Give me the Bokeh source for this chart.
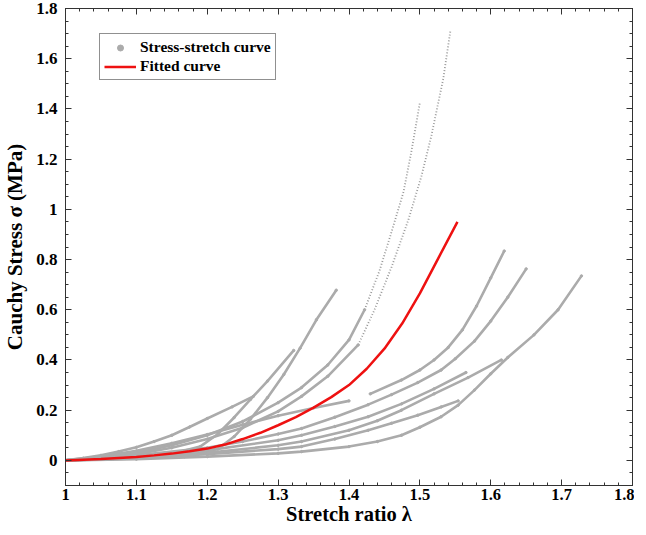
from bokeh.plotting import figure
from bokeh.models import (ColumnDataSource, LinearAxis, SingleIntervalTicker, Range1d,
                          CustomJSTickFormatter, Legend, LegendItem)
from bokeh.embed import file_html
from bokeh.resources import INLINE

# ---- data (stretch ratio, Cauchy stress MPa) ----
c1_x = [1.0, 1.025, 1.05, 1.075, 1.1, 1.125, 1.15, 1.175, 1.2, 1.235, 1.265]
c1_y = [0.0, 0.009, 0.02, 0.035, 0.052, 0.075, 0.1, 0.133, 0.167, 0.213, 0.255]

c2_x = [1.0, 1.05, 1.1, 1.145, 1.19, 1.215, 1.238, 1.261, 1.285, 1.322]
c2_y = [0.0, 0.006, 0.012, 0.022, 0.055, 0.105, 0.171, 0.243, 0.316, 0.438]

c3_x = [1.0, 1.05, 1.1, 1.168, 1.215, 1.238, 1.261, 1.285, 1.308, 1.331, 1.354, 1.382]
c3_y = [0.0, 0.004, 0.008, 0.015, 0.045, 0.095, 0.164, 0.25, 0.342, 0.447, 0.56, 0.678]

c4_x = [1.0, 1.05, 1.1, 1.15, 1.2, 1.25, 1.3, 1.333, 1.37, 1.4, 1.422, 1.443, 1.46, 1.477, 1.488, 1.5]
c4_y = [0.0, 0.01, 0.03, 0.06, 0.1, 0.155, 0.23, 0.29, 0.38, 0.48, 0.6, 0.755, 0.91, 1.07, 1.23, 1.425]

c5_x = [1.0, 1.05, 1.1, 1.15, 1.2, 1.25, 1.3, 1.333, 1.37, 1.413, 1.436, 1.46, 1.484, 1.502, 1.516, 1.533, 1.543]
c5_y = [0.0, 0.008, 0.025, 0.05, 0.085, 0.13, 0.195, 0.255, 0.335, 0.46, 0.6, 0.77, 0.96, 1.13, 1.29, 1.52, 1.71]

c6a_x = [1.0, 1.05, 1.1, 1.15, 1.2, 1.25, 1.3, 1.35, 1.4]
c6a_y = [0.0, 0.015, 0.038, 0.068, 0.103, 0.142, 0.178, 0.209, 0.237]
c6b_x = [1.43, 1.474, 1.5, 1.52, 1.54, 1.56, 1.58, 1.6, 1.619]
c6b_y = [0.265, 0.32, 0.36, 0.4, 0.45, 0.52, 0.615, 0.727, 0.834]

c7_x = [1.0, 1.1, 1.2, 1.25, 1.3, 1.333, 1.38, 1.427, 1.46, 1.497, 1.53, 1.55, 1.577, 1.6, 1.624, 1.65]
c7_y = [0.0, 0.02, 0.05, 0.075, 0.105, 0.127, 0.172, 0.222, 0.262, 0.31, 0.36, 0.405, 0.475, 0.555, 0.65, 0.763]

c8_x = [1.0, 1.1, 1.2, 1.3, 1.333, 1.4, 1.44, 1.474, 1.5, 1.53, 1.554, 1.577, 1.6, 1.624, 1.661, 1.695, 1.728]
c8_y = [0.0, 0.005, 0.015, 0.028, 0.035, 0.055, 0.075, 0.1, 0.132, 0.174, 0.22, 0.28, 0.345, 0.41, 0.5, 0.6, 0.735]

c9_x = [1.0, 1.1, 1.2, 1.3, 1.333, 1.38, 1.427, 1.474, 1.52, 1.565]
c9_y = [0.0, 0.015, 0.04, 0.08, 0.1, 0.135, 0.174, 0.225, 0.285, 0.35]

c10_x = [1.0, 1.1, 1.2, 1.3, 1.333, 1.38, 1.427, 1.46, 1.497, 1.53, 1.554]
c10_y = [0.0, 0.01, 0.025, 0.045, 0.055, 0.085, 0.12, 0.148, 0.18, 0.213, 0.237]

c11_x = [1.0, 1.1, 1.2, 1.3, 1.333, 1.4, 1.44, 1.474, 1.52, 1.568, 1.615]
c11_y = [0.0, 0.01, 0.03, 0.06, 0.075, 0.12, 0.158, 0.2, 0.265, 0.33, 0.4]

fit_x = [1.0, 1.025, 1.05, 1.075, 1.1, 1.125, 1.15, 1.175, 1.2, 1.225, 1.25, 1.275,
         1.3, 1.325, 1.35, 1.375, 1.4, 1.425, 1.45, 1.475, 1.5, 1.525, 1.553]
fit_y = [0.0, 0.003, 0.006, 0.01, 0.014, 0.02, 0.027, 0.036, 0.047, 0.063, 0.085, 0.11,
         0.14, 0.172, 0.21, 0.252, 0.3, 0.365, 0.445, 0.545, 0.665, 0.8, 0.95]

x_ticks_interval = 0.1
y_ticks_interval = 0.2

GRAY = "#ababab"
RED = "#ee1111"
FONT = "Liberation Serif"

p = figure(width=634, height=527, output_backend="svg", toolbar_location=None,
           x_range=Range1d(1.0, 1.8), y_range=Range1d(-0.1, 1.8),
           min_border_left=55, min_border_right=2, min_border_top=8, min_border_bottom=40,
           x_axis_type=None, y_axis_type=None)
p.outline_line_color = "#333333"
p.outline_line_width = 1
p.grid.visible = False
p.background_fill_color = "white"

fmt = CustomJSTickFormatter(code="return String(Number(tick.toFixed(3)));")

def make_axis(ticker_interval, minor, labels, title=None, lab_size="17px", title_size="21px"):
    ax = LinearAxis(ticker=SingleIntervalTicker(interval=ticker_interval, num_minor_ticks=minor),
                    formatter=fmt)
    ax.major_tick_in = 6
    ax.major_tick_out = 0
    ax.minor_tick_in = 3
    ax.minor_tick_out = 0
    ax.axis_line_color = "#333333"
    ax.major_tick_line_color = "#333333"
    ax.minor_tick_line_color = "#333333"
    if labels:
        ax.major_label_text_font = FONT
        ax.major_label_text_font_style = "bold"
        ax.major_label_text_font_size = lab_size
        ax.major_label_text_color = "black"
        ax.axis_label = title
        ax.axis_label_text_font = FONT
        ax.axis_label_text_font_style = "bold"
        ax.axis_label_text_font_size = title_size
        ax.axis_label_text_color = "black"
    else:
        ax.major_label_text_font_size = "0px"
        ax.major_label_standoff = 0
    return ax

xb = make_axis(x_ticks_interval, 5, True, "Stretch ratio λ", "16.5px", "20.5px")
xb.major_label_standoff = 3
xb.axis_label_standoff = 0
yl = make_axis(y_ticks_interval, 4, True, "Cauchy Stress σ (MPa)", "17px", "21px")
yl.major_label_standoff = 8
yl.axis_label_standoff = 6
xt = make_axis(x_ticks_interval, 5, False)
yr = make_axis(y_ticks_interval, 4, False)
p.add_layout(xb, "below")
p.add_layout(yl, "left")
p.add_layout(xt, "above")
p.add_layout(yr, "right")

solid = [(c1_x, c1_y), (c2_x, c2_y), (c3_x, c3_y), (c6a_x, c6a_y), (c6b_x, c6b_y),
         (c7_x, c7_y), (c8_x, c8_y), (c9_x, c9_y), (c10_x, c10_y), (c11_x, c11_y),
         (c4_x[:11], c4_y[:11]), (c5_x[:10], c5_y[:10])]
for xs, ys in solid:
    p.line(xs, ys, line_color=GRAY, line_width=2.6)

dotted = [(c4_x[10:], c4_y[10:]), (c5_x[9:], c5_y[9:])]
for xs, ys in dotted:
    p.line(xs, ys, line_color="#999999", line_width=1.8, line_dash="1 2")

# measured points on the solid parts (small dots) - also give the legend marker
all_x = [v for xs, _ in solid for v in xs]
all_y = [v for _, ys in solid for v in ys]
dot_src = ColumnDataSource(data=dict(x=all_x, y=all_y))
dot_r = p.scatter("x", "y", source=dot_src, size=2.4, marker="circle",
                  fill_color=GRAY, line_color=GRAY)

red_r = p.line(fit_x, fit_y, line_color=RED, line_width=2.5)

legend = Legend(items=[LegendItem(label="Stress-stretch curve", renderers=[dot_r]),
                       LegendItem(label="Fitted curve", renderers=[red_r])],
                location=(34, 405))
legend.label_text_font = FONT
legend.label_text_font_style = "bold"
legend.label_text_font_size = "15.5px"
legend.label_text_color = "black"
legend.label_height = 15
legend.glyph_height = 15
legend.glyph_width = 32
legend.label_standoff = 4
legend.spacing = 1
legend.padding = 4
legend.margin = 0
legend.border_line_color = "#222222"
legend.border_line_width = 1
legend.background_fill_alpha = 1
p.add_layout(legend, "center")

open("out.html", "w").write(file_html(p, INLINE))
